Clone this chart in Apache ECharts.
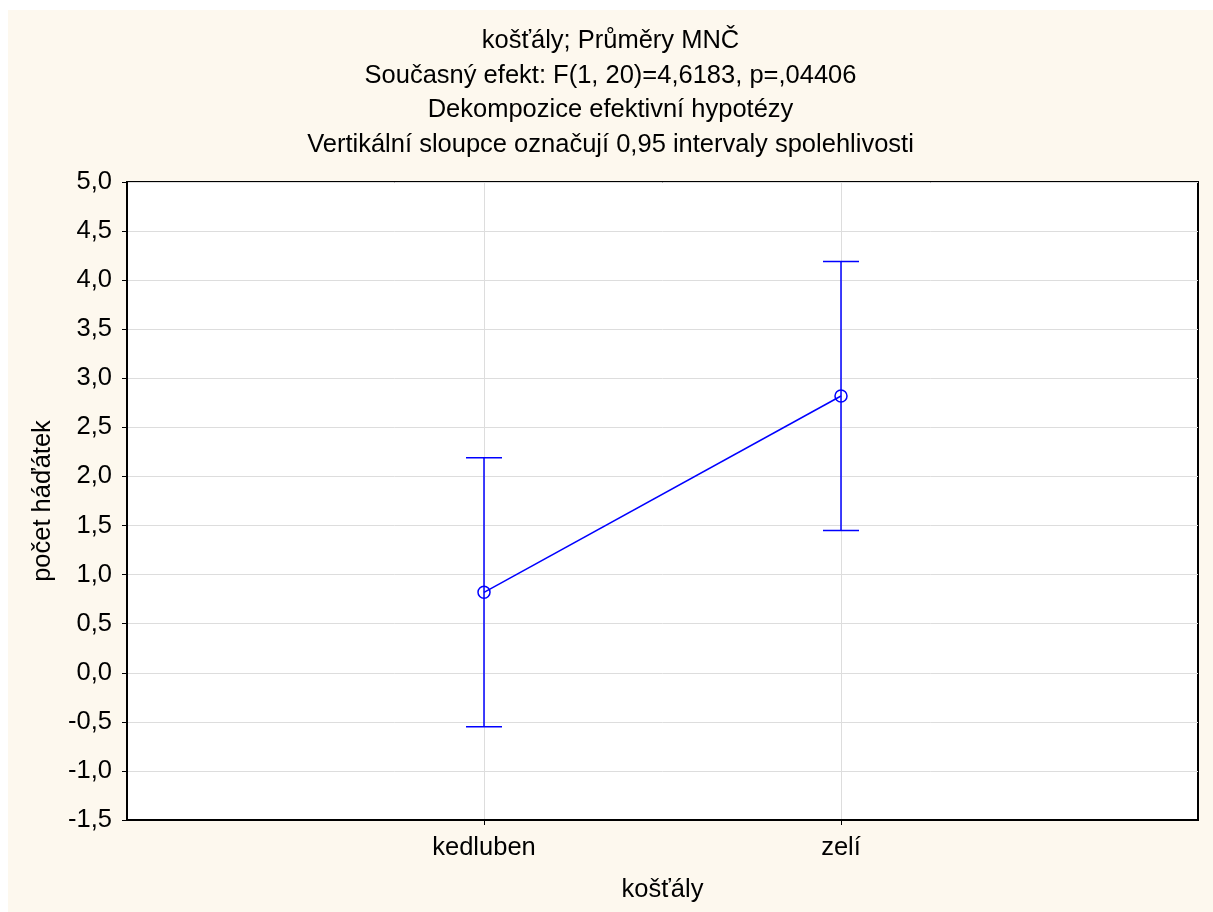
<!DOCTYPE html>
<html>
<head>
<meta charset="utf-8">
<script src="https://cdn.jsdelivr.net/npm/echarts@6/dist/echarts.min.js"></script>
<style>
  html, body { margin: 0; padding: 0; background: #fff; }
  #chart { position: absolute; left: 8px; top: 10px; width: 1205px; height: 902px; }
</style>
</head>
<body>
<div id="chart"></div>
<script>
// kategorie a průměry MNČ s 0,95 intervaly spolehlivosti
var categories = ['kedluben', 'zelí'];
var means = [0.82, 2.82];
var lower = [-0.55, 1.45];
var upper = [2.19, 4.19];
var titleLines = [
  'košťály; Průměry MNČ',
  'Současný efekt: F(1, 20)=4,6183, p=,04406',
  'Dekompozice efektivní hypotézy',
  'Vertikální sloupce označují 0,95 intervaly spolehlivosti'
];

var FONT = 'Liberation Sans, Arial, sans-serif';
var FS = 25.5;
var BLUE = '#0000ff';

var catPos = categories.map(function (c, i) { return i + 1; });
var meanData = means.map(function (v, i) { return [catPos[i], v]; });
var barData = means.map(function (v, i) { return [catPos[i], lower[i], upper[i]]; });

var chart = echarts.init(document.getElementById('chart'));
chart.setOption({
  backgroundColor: '#fdf8ee',
  animation: false,
  title: {
    text: titleLines.join('\n'),
    left: 'center',
    top: 9,
    textStyle: { fontFamily: FONT, fontSize: FS, fontWeight: 'normal', color: '#000', lineHeight: 34.5 }
  },
  grid: {
    left: 119, top: 172, right: 15, bottom: 92,
    show: true, backgroundColor: '#fff', borderColor: '#000', borderWidth: 2
  },
  xAxis: {
    type: 'value',
    min: 0, max: 3, interval: 1,
    name: 'košťály',
    nameLocation: 'middle',
    nameGap: 57,
    nameTextStyle: { fontFamily: FONT, fontSize: FS, color: '#000' },
    axisLine: { onZero: false, lineStyle: { color: '#000', width: 2 } },
    axisTick: { length: 5, customValues: catPos, lineStyle: { color: '#000' } },
    axisLabel: {
      fontFamily: FONT, fontSize: FS, color: '#000', margin: 15,
      formatter: function (v) { return categories[v - 1] || ''; }
    },
    splitLine: { lineStyle: { color: '#dddddd' } }
  },
  yAxis: {
    type: 'value',
    min: -1.5, max: 5, interval: 0.5,
    name: 'počet háďátek',
    nameLocation: 'middle',
    nameGap: 71,
    nameTextStyle: { fontFamily: FONT, fontSize: FS, color: '#000' },
    axisLine: { show: true, onZero: false, lineStyle: { color: '#000', width: 2 } },
    axisTick: { show: true, length: 5, lineStyle: { color: '#000' } },
    axisLabel: {
      fontFamily: FONT, fontSize: FS, color: '#000', margin: 15,
      formatter: function (v) { return v.toFixed(1).replace('.', ','); }
    },
    splitLine: { lineStyle: { color: '#dddddd' } }
  },
  series: [
    {
      type: 'custom',
      data: barData,
      z: 3,
      renderItem: function (params, api) {
        var x = api.value(0);
        var lo = api.coord([x, api.value(1)]);
        var hi = api.coord([x, api.value(2)]);
        var cap = 18;
        var style = { stroke: BLUE, lineWidth: 1.5 };
        return {
          type: 'group',
          children: [
            { type: 'line', shape: { x1: lo[0], y1: lo[1], x2: hi[0], y2: hi[1] }, style: style },
            { type: 'line', shape: { x1: hi[0] - cap, y1: hi[1], x2: hi[0] + cap, y2: hi[1] }, style: style },
            { type: 'line', shape: { x1: lo[0] - cap, y1: lo[1], x2: lo[0] + cap, y2: lo[1] }, style: style }
          ]
        };
      }
    },
    {
      type: 'line',
      data: meanData,
      z: 4,
      symbol: 'circle',
      symbolSize: 12,
      itemStyle: { color: 'rgba(0,0,0,0)', borderColor: BLUE, borderWidth: 1.5 },
      lineStyle: { color: BLUE, width: 1.5 }
    }
  ]
});
</script>
</body>
</html>
